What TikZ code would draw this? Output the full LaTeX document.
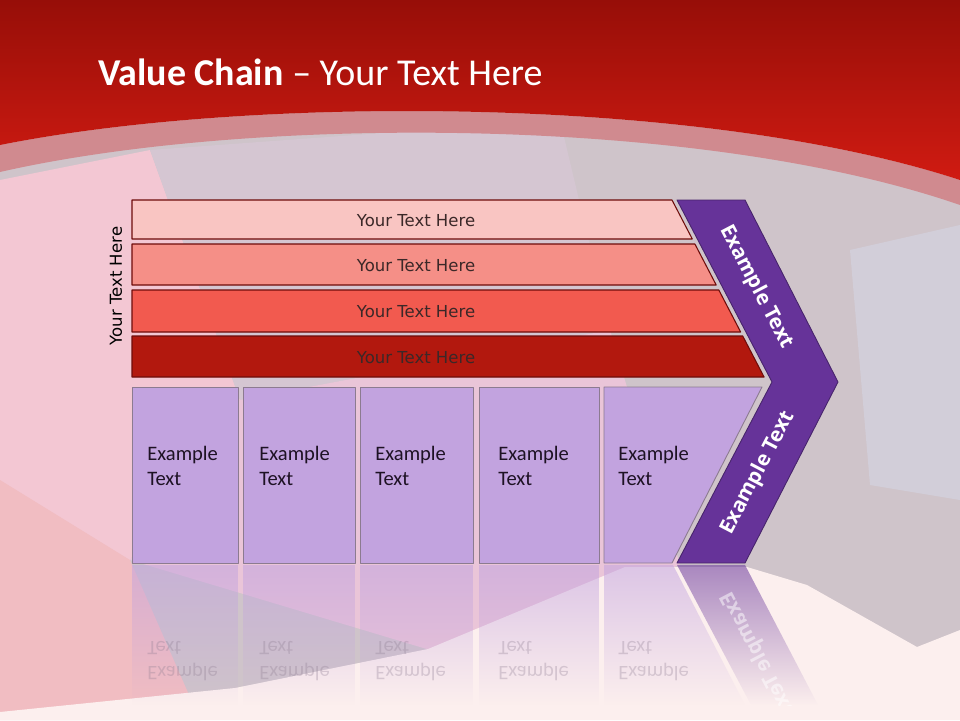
\documentclass[tikz,border=0pt]{standalone}
\usepackage{fontspec}
\setmainfont{Carlito}
\newfontfamily\barfont{DejaVu Sans}
\newfontfamily\chevfont{Open Sans}
\usetikzlibrary{fadings}
\definecolor{redtop}{HTML}{970E08}
\definecolor{redlow}{HTML}{D01B12}
\definecolor{arcband}{HTML}{D08A8F}
\definecolor{bgbody}{HTML}{CFC4CA}
\definecolor{bglight}{HTML}{FCEFEE}
\definecolor{facetA}{HTML}{F3C7D3}
\definecolor{facetB}{HTML}{F1BDC2}
\definecolor{facetC}{HTML}{D5C6D2}
\definecolor{facetD}{HTML}{EAC5D8}
\definecolor{facetE}{HTML}{D2CED9}
\definecolor{barA}{HTML}{F9C5C2}
\definecolor{barB}{HTML}{F58F87}
\definecolor{barC}{HTML}{F25A4F}
\definecolor{barD}{HTML}{B2180E}
\definecolor{barline}{HTML}{6E0C0A}
\definecolor{barink}{HTML}{3B2828}
\definecolor{boxfill}{HTML}{C2A3DF}
\definecolor{boxline}{HTML}{8C7B90}
\definecolor{boxink}{HTML}{1E1224}
\definecolor{chevron}{HTML}{663399}
\tikzfading[name=reflfade, top color=transparent!45, bottom color=transparent!100]

\begin{document}
\begin{tikzpicture}[x=0.02cm, y=-0.02cm, line join=round,
    bar/.style={draw=barline, line width=0.6pt},
    bartext/.style={font=\barfont\fontsize{9.4}{11}\selectfont, text=barink, inner sep=0pt},
    boxpart/.style={fill=boxfill, draw=boxline, line width=0.5pt},
    boxtext/.style={font=\fontsize{11.7}{14}\selectfont, text=boxink, anchor=base west, inner sep=0pt},
    mirrortext/.style={boxtext, yscale=-1, text=boxline, text opacity=0.3},
    chevtext/.style={font=\chevfont\bfseries\fontsize{11.7}{14}\selectfont, text=white, inner sep=0pt}]
\useasboundingbox (0,0) rectangle (960,720);
% background
\fill[bgbody] (0,0) rectangle (960,720);
\fill[facetA] (0,180) -- (150,150) -- (240,400) -- (130,560) -- (0,540) -- cycle;
\fill[facetB] (0,480) -- (130,560) -- (200,720) -- (0,720) -- cycle;
\fill[facetC] (150,150) -- (560,120) -- (610,330) -- (240,400) -- cycle;
\fill[facetD] (240,400) -- (610,330) -- (680,565) -- (430,650) -- (130,560) -- cycle;
\fill[facetE] (850,250) -- (960,225) -- (960,500) -- (870,485) -- cycle;
\fill[bglight] (0,712) -- (235,688) -- (428,649) -- (625,567) -- (747,567) -- (807,585)
  -- (917,647) -- (960,630) -- (960,720) -- (0,720) -- cycle;
\fill[arcband] (0,145) .. controls (250,95) and (700,95) .. (960,180) -- (960,205)
  .. controls (700,115) and (250,115) .. (0,172) -- cycle;
\shade[top color=redtop, bottom color=redlow] (0,0) -- (960,0) -- (960,180)
  .. controls (700,95) and (250,95) .. (0,145) -- cycle;
% title
\node[anchor=base west, text=white, inner sep=0pt, font=\fontsize{21.6}{26}\selectfont] (title) at (98,85)
  {\textbf{Value Chain} -- Your Text Here};
% bars
\def\slant#1{672+0.52*(#1-200)}
\foreach \n/\top/\bot/\col in {1/200/239/barA, 2/244/285/barB, 3/290/332/barC, 4/336/377/barD}{
  \filldraw[bar, fill=\col] (132,\top) -- ({\slant{\top}},\top) -- ({\slant{\bot}},\bot) -- (132,\bot) -- cycle;
  \node[bartext] (bar\n) at (416,{(\top+\bot)/2+1}) {Your Text Here};
}
\node[bartext, text=black, rotate=90] (side) at (116,286) {Your Text Here};
% boxes
\foreach \n/\l/\r/\t in {1/132/238/147, 2/243/355/259, 3/360/473/375, 4/479/599/498}{
  \filldraw[boxpart] (\l,387) rectangle (\r,563);
  \node[boxtext] (box\n a) at (\t,460) {Example};
  \node[boxtext] (box\n b) at (\t,485) {Text};
  \fill[boxfill, path fading=reflfade] (\l,565) rectangle (\r,705);
  \node[mirrortext] (refl\n a) at (\t,666) {Example};
  \node[mirrortext] (refl\n b) at (\t,641) {Text};
}
\filldraw[boxpart] (604,387) -- (762,387) -- (672,563) -- (604,563) -- cycle;
\node[boxtext] (box5a) at (618,460) {Example};
\node[boxtext] (box5b) at (618,485) {Text};
\fill[boxfill, path fading=reflfade] (604,565) -- (673,565) -- (745,705) -- (604,705) -- cycle;
\node[mirrortext] (refl5a) at (618,666) {Example};
\node[mirrortext] (refl5b) at (618,641) {Text};
% chevron
\filldraw[fill=chevron, draw=chevron!70!black, line width=0.5pt]
  (677,200) -- (745,200) -- (838,382) -- (745,563) -- (677,563) -- (772,382) -- cycle;
\node[chevtext, rotate=-62.4] (chevup) at (756,287) {Example Text};
\node[chevtext, rotate=62.4] (chevlow) at (758,473) {Example Text};
\fill[chevron, path fading=reflfade] (677,565) -- (745,565) -- (818,705) -- (751,705) -- cycle;
\begin{scope}
  \clip (677,565) -- (745,565) -- (818,705) -- (751,705) -- cycle;
  \node[chevtext, rotate=-62.4, yscale=-1, text opacity=0.5] (chevrefl) at (758,653) {Example Text};
\end{scope}
\end{tikzpicture}
\end{document}
